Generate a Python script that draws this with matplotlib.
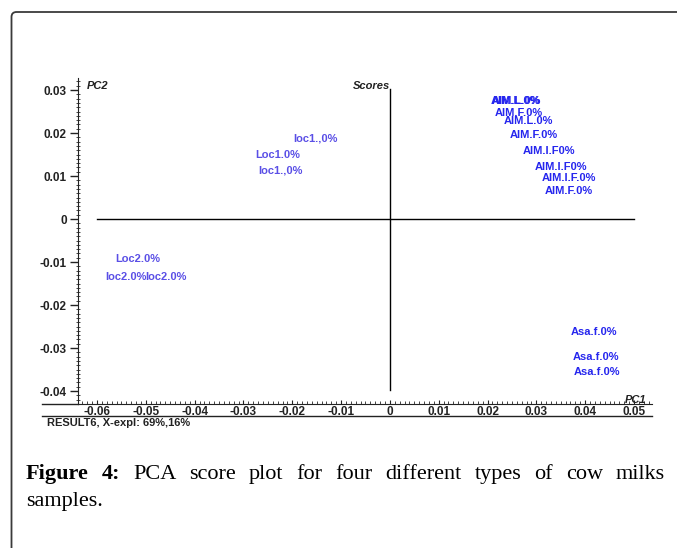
import matplotlib
matplotlib.use('Agg')
import matplotlib.pyplot as plt
from matplotlib.lines import Line2D
from matplotlib.patches import PathPatch
from matplotlib.path import Path
from matplotlib.transforms import IdentityTransform
from matplotlib.ticker import MultipleLocator, FuncFormatter

# score values (PC1, PC2) for each sample label
loc1_labels = ['loc1.,0%', 'Loc1.0%', 'loc1.,0%']
loc1_pc1 = [-0.0152, -0.0230, -0.0225]
loc1_pc2 = [0.0188, 0.0149, 0.0114]

loc2_labels = ['Loc2.0%', 'loc2.0%', 'loc2.0%']
loc2_pc1 = [-0.0516, -0.0541, -0.0459]
loc2_pc2 = [-0.0093, -0.0135, -0.0135]

aim_labels = ['AIM.L.0%', 'AIM.L.0%', 'AIM.F.0%', 'AIM.L.0%', 'AIM.F.0%',
              'AIM.I.F0%', 'AIM.I.F0%', 'AIM.I.F.0%', 'AIM.F.0%']
aim_pc1 = [0.0257, 0.0259, 0.0264, 0.0283, 0.0295, 0.0326, 0.0350, 0.0367, 0.0367]
aim_pc2 = [0.0275, 0.0274, 0.0247, 0.0228, 0.0195, 0.0158, 0.0121, 0.0095, 0.0065]

asa_labels = ['Asa.f.0%', 'Asa.f.0%', 'Asa.f.0%']
asa_pc1 = [0.0418, 0.0422, 0.0424]
asa_pc2 = [-0.0263, -0.0321, -0.0356]

W, H = 677, 548
fig = plt.figure(figsize=(W / 100, H / 100), dpi=100)
plt.rcParams['font.family'] = ['Liberation Sans', 'DejaVu Sans']

def fx(px):
    return px / W

def fy(py):
    return 1 - py / H

# outer frame: only left and top edges with a rounded corner, in pixels
r = 5
verts = [(11.5, -10), (11.5, H - 12 - r), (11.5, H - 12), (11.5 + r, H - 12), (W + 10, H - 12)]
codes = [Path.MOVETO, Path.LINETO, Path.CURVE3, Path.CURVE3, Path.LINETO]
fig.add_artist(PathPatch(Path(verts, codes), transform=IdentityTransform(), fill=False,
                         edgecolor='#3a3a3a', linewidth=1.3))

ax = fig.add_axes([fx(78), fy(404), fx(652) - fx(78), fy(78) - fy(404)])
ax.set_xlim(-0.0639, 0.0537)
ax.set_ylim(-0.0430, 0.0328)
ax.spines['top'].set_visible(False)
ax.spines['right'].set_visible(False)
ax.spines['left'].set_color('#222222')
ax.spines['bottom'].set_color('#222222')

ax.xaxis.set_major_locator(MultipleLocator(0.01))
ax.xaxis.set_minor_locator(MultipleLocator(0.001))
ax.yaxis.set_major_locator(MultipleLocator(0.01))
ax.yaxis.set_minor_locator(MultipleLocator(0.001))
fmt = FuncFormatter(lambda v, p: '0' if abs(v) < 1e-9 else f'{v:.2f}')
ax.xaxis.set_major_formatter(fmt)
ax.yaxis.set_major_formatter(fmt)
ax.tick_params(axis='y', which='major', direction='out', length=6, width=1,
               labelsize=8.5, colors='#222222', pad=2)
ax.tick_params(axis='y', which='minor', direction='inout', length=3, width=0.7, colors='#444444')
ax.tick_params(axis='x', which='major', direction='in', length=3, width=0.8,
               labelsize=8.5, colors='#222222', pad=1.5)
ax.tick_params(axis='x', which='minor', direction='in', length=2, width=0.7, colors='#444444')
for lab in ax.get_xticklabels() + ax.get_yticklabels():
    lab.set_fontweight('bold')

# zero lines
ax.plot([-0.06, 0.05], [0, 0], color='black', lw=1)
ax.plot([0, 0], [-0.0398, 0.0302], color='black', lw=1)

for labels, xs, ys, col in [(loc1_labels, loc1_pc1, loc1_pc2, '#5a4fe6'),
                            (loc2_labels, loc2_pc1, loc2_pc2, '#5a4fe6'),
                            (aim_labels, aim_pc1, aim_pc2, '#2626ee'),
                            (asa_labels, asa_pc1, asa_pc2, '#2626ee')]:
    for t, x, y in zip(labels, xs, ys):
        ax.text(x, y, t, color=col, fontsize=8, fontweight='bold',
                ha='center', va='center')

ax.text(-0.0620, 0.0309, 'PC2', fontsize=8, fontweight='bold', style='italic',
        color='#222222', ha='left', va='center')
ax.text(0, 0.0309, 'Scores', fontsize=8, fontweight='bold', style='italic',
        color='#222222', ha='right', va='center')
ax.text(0.0504, -0.0420, 'PC1', fontsize=8, fontweight='bold', style='italic',
        color='#222222', ha='center', va='center')

# axis line extends left under the y labels, plus the line under the x labels
fig.add_artist(Line2D([fx(42), fx(78)], [fy(404), fy(404)], color='#222222', lw=1))
fig.add_artist(Line2D([fx(42), fx(652)], [fy(416), fy(416)], color='#222222', lw=1, zorder=5))
fig.text(fx(47), fy(422.5), 'RESULT6, X-expl: 69%,16%', fontsize=8, fontweight='bold',
         color='#222222', ha='left', va='center')

# caption, first line justified between two edges
words = ['Figure', '4:', 'PCA', 'score', 'plot', 'for', 'four', 'different',
         'types', 'of', 'cow', 'milks']
bold_n = 2
renderer = fig.canvas.get_renderer()
objs = []
for i, w in enumerate(words):
    t = fig.text(0, fy(479), w, fontsize=16, family='Liberation Serif',
                 fontweight='bold' if i < bold_n else 'normal', va='baseline', ha='left')
    objs.append(t)
widths = [t.get_window_extent(renderer).width for t in objs]
x0, x1 = 26, 665
gap = (x1 - x0 - sum(widths)) / (len(words) - 1)
x = x0
for t, w in zip(objs, widths):
    t.set_x(fx(x))
    x += w + gap
fig.text(fx(26), fy(506), 'samples.', fontsize=16, family='Liberation Serif',
         va='baseline', ha='left')

fig.savefig('out.png', dpi=100)
